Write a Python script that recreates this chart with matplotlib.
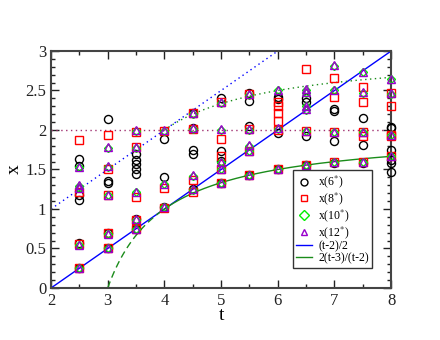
import numpy as np
import matplotlib
matplotlib.use("Agg")
import matplotlib.pyplot as plt
from matplotlib.ticker import MultipleLocator

plt.rcParams['font.family'] = ['Liberation Serif', 'DejaVu Serif']
plt.rcParams['mathtext.fontset'] = 'stix'

# Data: x values per t for each series
x6 = {2.5: [1.63, 1.55, 1.18, 1.12, 0.57, 0.25],
      3.0: [2.14, 1.35, 1.33, 0.70, 0.50],
      3.5: [1.69, 1.62, 1.57, 1.51, 1.44, 0.87, 0.75],
      4.0: [1.89, 1.41, 1.02],
      4.5: [2.22, 2.03, 1.75, 1.69, 1.25],
      5.0: [2.40, 1.73, 1.61, 1.33],
      5.5: [2.47, 2.37, 2.05, 1.43],
      6.0: [2.42, 2.39, 1.96, 1.50],
      6.5: [2.40, 2.35, 1.93, 1.56],
      7.0: [2.27, 2.24, 1.865, 1.58],
      7.5: [2.15, 1.81, 1.58],
      8.0: [2.04, 2.02, 1.75, 1.62, 1.58, 1.47]}
x8 = {2.5: [1.87, 1.22, 0.56, 0.25],
      3.0: [1.94, 1.51, 1.18, 0.70, 0.50],
      3.5: [1.97, 1.78, 1.15, 0.86, 0.75],
      4.0: [1.99, 1.27, 1.01],
      4.5: [2.21, 2.01, 1.37, 1.22],
      5.0: [2.36, 1.89, 1.67, 1.50, 1.33],
      5.5: [2.45, 2.01, 1.74, 1.43],
      6.0: [2.36, 2.30, 2.21, 2.11, 2.00, 1.50],
      6.5: [2.77, 1.99, 1.56],
      7.0: [2.66, 2.42, 1.98, 1.60],
      7.5: [2.54, 2.36, 1.98, 1.92, 1.60],
      8.0: [2.47, 2.30, 1.94, 1.92, 1.67]}
x10 = {2.5: [1.53, 1.29, 1.26, 0.55, 0.25],
       3.0: [1.77, 1.53, 1.18, 0.68, 0.50],
       3.5: [1.99, 1.77, 1.22, 0.86, 0.75],
       4.0: [1.99, 1.32, 1.02],
       4.5: [2.20, 2.01, 1.42, 1.24],
       5.0: [2.34, 2.00, 1.59, 1.50, 1.33],
       5.5: [2.44, 2.00, 1.80, 1.73, 1.43],
       6.0: [2.50, 2.01, 1.50],
       6.5: [2.51, 2.47, 2.30, 2.25, 1.99, 1.56],
       7.0: [2.81, 2.50, 1.98, 1.60],
       7.5: [2.73, 2.47, 1.98, 1.60],
       8.0: [2.64, 2.46, 1.94, 1.67]}
x12 = {2.5: [1.53, 1.30, 1.27, 0.55, 0.25],
       3.0: [1.78, 1.54, 1.18, 0.68, 0.50],
       3.5: [2.00, 1.78, 1.22, 0.87, 0.75],
       4.0: [2.00, 1.32, 1.03],
       4.5: [2.21, 2.02, 1.43, 1.25],
       5.0: [2.35, 2.01, 1.60, 1.50, 1.33],
       5.5: [2.45, 2.01, 1.81, 1.74, 1.43],
       6.0: [2.51, 2.02, 1.50],
       6.5: [2.52, 2.48, 2.31, 2.26, 1.99, 1.56],
       7.0: [2.82, 2.51, 1.98, 1.60],
       7.5: [2.74, 2.48, 1.98, 1.60],
       8.0: [2.65, 2.47, 1.94, 1.67]}

labels = ['x(6$^{*}$)', 'x(8$^{*}$)', 'x(10$^{*}$)', 'x(12$^{*}$)']


def flat(d):
    ts, xs = [], []
    for t, vals in d.items():
        for v in vals:
            ts.append(t)
            xs.append(v)
    return np.array(ts), np.array(xs)


fig = plt.figure(figsize=(4.4, 3.4), dpi=100)
ax = fig.add_axes([0.116, 0.153, 0.773, 0.697])

# reference curves
t1 = np.linspace(2, 8, 200)
ax.plot(t1, (t1 - 2) / 2, color='#0000ff', lw=1.0, zorder=2)
t2 = np.linspace(2, 6, 100)
ax.plot(t2, t2 / 2, color='#0000ff', lw=1.0, ls=(0, (1, 2.5)), zorder=2)
ax.plot([2, 8], [2, 2], color='#a03070', lw=1.0, ls=(0, (1, 2.5)), zorder=2)
t3 = np.linspace(3, 4, 100)
ax.plot(t3, 2 * (t3 - 3) / (t3 - 2), color='#1a8c1a', lw=1.0, ls=(0, (5, 3)), zorder=2)
t4 = np.linspace(4, 8, 150)
ax.plot(t4, 2 * (t4 - 3) / (t4 - 2), color='#1a8c1a', lw=1.0, zorder=2)
ax.plot(t4, (3 * t4 - 8) / (t4 - 2), color='#1a8c1a', lw=1.0, ls=(0, (1, 2.5)), zorder=2)

# data
specs = [(x6, 'o', '#000000'), (x8, 's', '#ff0000'), (x10, 'D', '#00ee00'), (x12, '^', '#9900cc')]
handles = []
for (d, m, c), lab in zip(specs, labels):
    ts, xs = flat(d)
    ms = 5.8 if m != 'D' else 4.5
    h, = ax.plot(ts, xs, ls='none', marker=m, ms=ms, mfc='none', mec=c, mew=1.0,
                 label=lab, zorder=3, clip_on=False)
    handles.append(h)

ax.set_xlim(2, 8)
ax.set_ylim(0, 3)
ax.xaxis.set_major_locator(MultipleLocator(1))
ax.xaxis.set_minor_locator(MultipleLocator(0.5))
ax.yaxis.set_major_locator(MultipleLocator(0.5))
ax.yaxis.set_minor_locator(MultipleLocator(0.1))
ax.yaxis.set_major_formatter(matplotlib.ticker.FuncFormatter(lambda v, p: f'{v:g}'))
ax.tick_params(which='both', direction='in', top=True, right=True, labelsize=12, colors='#222222')
ax.tick_params(which='major', length=6, width=1.0)
ax.tick_params(which='minor', length=3, width=1.0)
for s in ax.spines.values():
    s.set_color('#444444')
    s.set_linewidth(1.5)
ax.set_xlabel('t', fontsize=14, labelpad=-1)
ax.set_ylabel('x', fontsize=14, labelpad=2)

lines = ax.get_lines()
leg = ax.legend(handles=handles + [lines[0], lines[4]],
                labels=labels + ['(t-2)/2', '2(t-3)/(t-2)'],
                loc='lower right', bbox_to_anchor=(0.945, 0.084), fontsize=8.5,
                frameon=True, fancybox=False, edgecolor='#333333', framealpha=1,
                handlelength=1.3, handletextpad=0.55, labelspacing=0.0, borderpad=0.3,
                borderaxespad=0.0)
for h in leg.legend_handles[:4]:
    h.set_markersize(5)
leg.get_frame().set_linewidth(1.0)

fig.savefig('out.png', dpi=100)
